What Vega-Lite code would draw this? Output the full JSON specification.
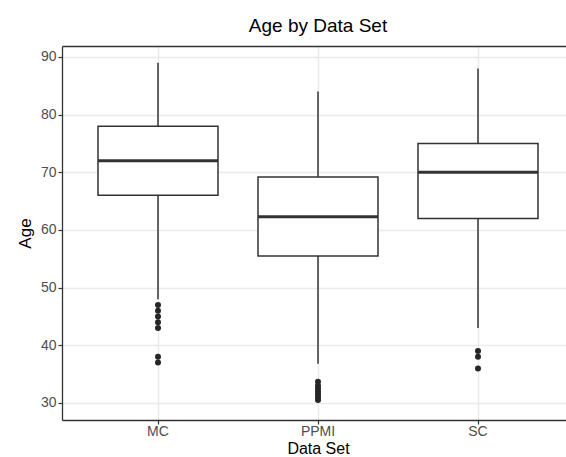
{
  "$schema": "https://vega.github.io/schema/vega-lite/v6.json",
  "width": 504,
  "height": 374,
  "autosize": {"type": "none"},
  "padding": {"left": 62, "top": 46, "right": 0, "bottom": 37},
  "background": "white",
  "title": {"text": "Age by Data Set", "anchor": "middle", "dx": 4, "offset": 10, "fontSize": 19, "font": "Liberation Sans", "fontWeight": "normal", "color": "#000000"},
  "config": {
    "view": {"stroke": null},
    "font": "Liberation Sans",
    "axis": {"labelFont": "Liberation Sans", "titleFont": "Liberation Sans", "labelColor": "#4D4D4D", "labelFontSize": 14, "titleFontSize": 17, "titleFontWeight": "normal", "titleColor": "#000000", "tickColor": "#333333", "tickSize": 4, "tickWidth": 1.2, "domain": true, "domainColor": "#333333", "domainWidth": 1.3, "gridColor": "#EBEBEB", "gridWidth": 1.5}
  },
  "resolve": {"axis": {"x": "independent"}},
  "datasets": {
    "boxes": [
      {"set": "MC", "lower": 48, "q1": 66, "median": 72, "q3": 78, "upper": 89},
      {"set": "PPMI", "lower": 36.8, "q1": 55.5, "median": 62.3, "q3": 69.2, "upper": 84},
      {"set": "SC", "lower": 43, "q1": 62, "median": 70, "q3": 75, "upper": 88}
    ],
    "outliers": [
      {"set": "MC", "age": 47}, {"set": "MC", "age": 46}, {"set": "MC", "age": 45}, {"set": "MC", "age": 44}, {"set": "MC", "age": 43}, {"set": "MC", "age": 38}, {"set": "MC", "age": 37},
      {"set": "PPMI", "age": 33.7}, {"set": "PPMI", "age": 33}, {"set": "PPMI", "age": 32.5}, {"set": "PPMI", "age": 32}, {"set": "PPMI", "age": 31.5}, {"set": "PPMI", "age": 31}, {"set": "PPMI", "age": 30.5},
      {"set": "SC", "age": 39}, {"set": "SC", "age": 38}, {"set": "SC", "age": 36}
    ]
  },
  "layer": [
    {
      "data": {"name": "boxes"},
      "mark": {"type": "rule", "color": "#333333", "strokeWidth": 1.5},
      "encoding": {
        "x": {"field": "set", "type": "nominal", "sort": ["MC", "PPMI", "SC"],
          "scale": {"range": [0, 512], "paddingInner": 0, "paddingOuter": 0.1},
          "axis": {"title": "Data Set", "orient": "bottom", "labelAngle": 0, "grid": true, "bandPosition": 0.5, "labelPadding": 0, "titlePadding": 2, "titleFontSize": 16}},
        "y": {"field": "lower", "type": "quantitative",
          "scale": {"domain": [27.05, 91.9], "nice": false, "zero": false},
          "axis": {"title": "Age", "values": [30, 35, 40, 45, 50, 55, 60, 65, 70, 75, 80, 85, 90],
            "labelExpr": "datum.value % 10 ? '' : datum.label",
            "tickOpacity": {"condition": {"test": "datum.value % 10 !== 0", "value": 0}, "value": 1},
            "gridWidth": {"condition": {"test": "datum.value % 10 !== 0", "value": 0.9}, "value": 1.5},
            "gridColor": {"condition": {"test": "datum.value % 10 !== 0", "value": "#EDEDED"}, "value": "#EBEBEB"},
            "labelPadding": 2, "titlePadding": 6}},
        "y2": {"field": "upper"}
      }
    },
    {
      "data": {"name": "boxes"},
      "mark": {"type": "bar", "fill": "white", "stroke": "#333333", "strokeWidth": 1.5, "width": {"band": 0.75}},
      "encoding": {
        "x": {"field": "set", "type": "nominal", "sort": ["MC", "PPMI", "SC"],
          "axis": {"orient": "top", "title": null, "labels": false, "ticks": false, "grid": false, "domain": true}},
        "y": {"field": "q1", "type": "quantitative"},
        "y2": {"field": "q3"}
      }
    },
    {
      "data": {"name": "boxes"},
      "mark": {"type": "tick", "color": "#333333", "thickness": 3, "size": 120, "opacity": 1},
      "encoding": {
        "x": {"field": "set", "type": "nominal", "sort": ["MC", "PPMI", "SC"], "axis": null},
        "y": {"field": "median", "type": "quantitative"}
      }
    },
    {
      "data": {"name": "outliers"},
      "mark": {"type": "point", "filled": true, "color": "#262626", "size": 36, "opacity": 1},
      "encoding": {
        "x": {"field": "set", "type": "nominal", "sort": ["MC", "PPMI", "SC"], "axis": null},
        "y": {"field": "age", "type": "quantitative"}
      }
    }
  ]
}
